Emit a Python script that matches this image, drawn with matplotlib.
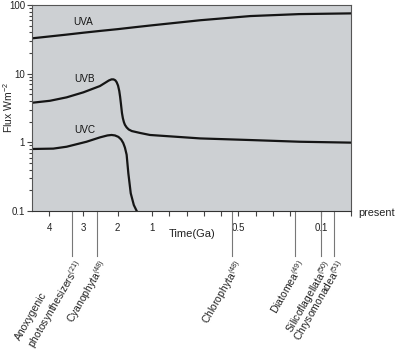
import numpy as np
import matplotlib
matplotlib.use('Agg')
import matplotlib.pyplot as plt
from matplotlib.transforms import blended_transform_factory

plt.rcParams['font.family'] = ['Liberation Sans', 'DejaVu Sans']
plt.rcParams['mathtext.fontset'] = 'custom'
plt.rcParams['mathtext.rm'] = 'Liberation Sans'
plt.rcParams['mathtext.it'] = 'Liberation Sans:italic'
plt.rcParams['mathtext.bf'] = 'Liberation Sans:bold'

# ---------------- data (time in Ga, flux in W m^-2) ----------------
uva_time = [4.5, 3.5, 3.0, 2.5, 2.0, 1.5, 1.0, 0.72, 0.43, 0.17, 0.0]
uva_flux = [32.7, 37.0, 39.5, 42.0, 44.5, 47.5, 50.6, 60.0, 69.0, 73.7, 75.5]

uvb_time = [4.5, 3.975, 3.49, 3.0, 2.52, 2.35, 2.26, 2.18, 2.12, 2.07, 2.03, 1.99,
            1.955, 1.93, 1.905, 1.876, 1.85, 1.82, 1.79, 1.74, 1.68, 1.59, 1.35,
            1.06, 0.72, 0.43, 0.168, 0.0]
uvb_flux = [3.77, 4.03, 4.52, 5.35, 6.6, 7.45, 7.95, 8.26, 8.25, 8.0, 7.5, 6.7,
            5.6, 4.6, 3.6, 2.67, 2.25, 1.97, 1.80, 1.65, 1.54, 1.46, 1.37,
            1.28, 1.14, 1.08, 1.02, 0.99]

uvc_time = [4.5, 3.88, 3.49, 2.91, 2.52, 2.3, 2.18, 2.08, 1.98, 1.90, 1.84, 1.79,
            1.74, 1.69, 1.62, 1.53, 1.45, 1.40]
uvc_flux = [0.80, 0.81, 0.863, 1.02, 1.18, 1.26, 1.28, 1.26, 1.20, 1.10, 0.98, 0.84,
            0.66, 0.354, 0.181, 0.122, 0.101, 0.09]

band_names = ['UVA', 'UVB', 'UVC']
band_label_time = [3.3, 3.28, 3.28]
band_label_flux = [56, 8.3, 1.51]

groups = ['Anoxygenic\nphotosynthesizers', 'Cyanophyta', 'Chlorophyta',
          'Diatomea', 'Silicoflagellata', 'Chrysomonadea']
group_refs = ['(21)', '(48)', '(48)', '(49)', '(50)', '(51)']
group_time = [3.33, 2.605, 0.536, 0.184, 0.1, 0.057]

major_ticks = [4, 3, 2, 1, 0.5, 0.1, 0]
major_labels = ['4', '3', '2', '1', '0.5', '0.1', '']
minor_ticks = [0.9, 0.8, 0.7, 0.6, 0.4, 0.3, 0.2]

y_ticks = [0.1, 1, 10, 100]
y_labels = ['0.1', '1', '10', '100']

# piecewise time axis (Ga -> axis position, increasing)
axis_time_knots = np.array([0.0, 0.1, 0.2, 1.0, 4.5])
axis_pos_knots = np.array([0.0, 30.0, 61.0, 199.0, 319.0])


def fwd(t):
    t = np.asarray(t, dtype=float)
    return np.interp(t, axis_time_knots, axis_pos_knots)


def inv(p):
    p = np.asarray(p, dtype=float)
    return np.interp(p, axis_pos_knots, axis_time_knots)


W, H = 398, 353
fig = plt.figure(figsize=(W / 100, H / 100), dpi=100)
ax = fig.add_axes([32 / W, 142 / H, 319 / W, 206 / H])
ax.set_facecolor('#cdd0d3')

ax.set_xscale('function', functions=(fwd, inv))
ax.set_yscale('log')
ax.set_xlim(4.5, 0)
ax.set_ylim(0.1, 100)

line_kw = dict(color='#151515', lw=1.6, solid_capstyle='butt', solid_joinstyle='round')
ax.plot(uva_time, uva_flux, **line_kw)
ax.plot(uvb_time, uvb_flux, **line_kw)
ax.plot(uvc_time, uvc_flux, **line_kw)

for name, t, f in zip(band_names, band_label_time, band_label_flux):
    ax.text(t, f, name, fontsize=7.2, ha='left', va='center', color='#151515')

ax.set_xticks(major_ticks)
ax.set_xticklabels(major_labels)
ax.set_xticks(minor_ticks, minor=True)
ax.xaxis.set_minor_formatter(matplotlib.ticker.NullFormatter())
ax.set_yticks(y_ticks)
ax.set_yticklabels(y_labels)
ax.yaxis.set_minor_locator(matplotlib.ticker.LogLocator(base=10, subs=np.arange(2, 10)))
ax.yaxis.set_minor_formatter(matplotlib.ticker.NullFormatter())

ax.tick_params(axis='both', which='both', direction='out', color='#444444', width=0.8,
               labelsize=7, labelcolor='#222222')
ax.tick_params(axis='x', which='both', length=3.5, pad=5)
ax.tick_params(axis='y', which='major', length=3.5, pad=1.5)
ax.tick_params(axis='y', which='minor', length=2.5)

for s in ax.spines.values():
    s.set_color('#555555')
    s.set_linewidth(0.8)
ax.spines['bottom'].set_color('#333333')

# group marker lines and rotated labels
trans = blended_transform_factory(ax.transData, ax.transAxes)
for name, ref, t in zip(groups, group_refs, group_time):
    ax.plot([t, t], [0, -0.22], transform=trans, clip_on=False,
            color='#777777', lw=0.8)
    label = name + r'$^{\mathrm{' + ref + '}}$'
    nlines = name.count('\n')
    L = 9.0 * nlines
    ax.annotate(label, xy=(t, -0.22), xycoords=trans,
                xytext=(-0.866 * L + 1.0, 0.5 * L - 1.0), textcoords='offset points',
                rotation=60, rotation_mode='anchor', ha='right', va='top',
                multialignment='left', fontsize=7.5, color='#222222',
                annotation_clip=False)

fig.text(8 / W, 1 - 108 / H, r'Flux Wm$^{-2}$', rotation=90, ha='center', va='center',
         fontsize=7.5, color='#222222')
fig.text(192 / W, 1 - 234 / H, 'Time(Ga)', ha='center', va='center',
         fontsize=8, color='#222222')
fig.text(358 / W, 1 - 213 / H, 'present', ha='left', va='center',
         fontsize=7.8, color='#222222')

fig.savefig('out.png', dpi=100)
